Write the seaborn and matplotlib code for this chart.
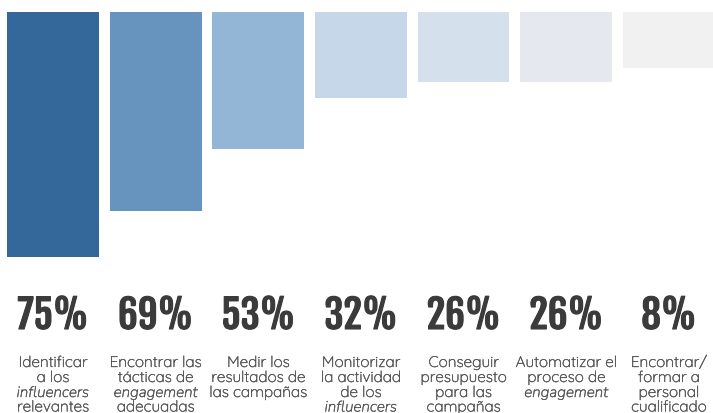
import matplotlib
matplotlib.use("Agg")
import matplotlib.pyplot as plt
import matplotlib.transforms as mtransforms
import matplotlib.patheffects as pe
import seaborn as sns
import pandas as pd

# ---- data ----
categories = ["Identificar influencers", "Tácticas de engagement", "Medir resultados",
              "Monitorizar actividad", "Conseguir presupuesto", "Automatizar engagement",
              "Encontrar personal"]
percent_labels = ["75%", "69%", "53%", "32%", "26%", "26%", "8%"]
# bar lengths as drawn in the infographic (same scale as 75% for the first bar)
bar_lengths = [75, 61, 42, 26.3, 21.4, 21.4, 17.1]
descriptions = [
    ["Identificar", "a los", "*influencers*", "relevantes"],
    ["Encontrar las", "tácticas de", "*engagement*", "adecuadas"],
    ["Medir los", "resultados de", "las campañas"],
    ["Monitorizar", "la actividad", "de los", "*influencers*"],
    ["Conseguir", "presupuesto", "para las", "campañas"],
    ["Automatizar el", "proceso de", "*engagement*"],
    ["Encontrar/", "formar a", "personal", "cualificado"],
]
bar_colors = ["#34689a", "#6694be", "#93b5d6", "#c6d7e9", "#d4e1ed", "#e5e9ef", "#f1f1f1"]

df = pd.DataFrame({"cat": categories, "length": bar_lengths})

W, H = 713, 413
fig = plt.figure(figsize=(W / 100, H / 100), dpi=100)
fig.patch.set_facecolor("white")

top_px, bottom_px = 12, 257
ax = fig.add_axes([0, 1 - bottom_px / H, 1, (bottom_px - top_px) / H])
sns.barplot(data=df, x="cat", y="length", hue="cat", palette=bar_colors,
            legend=False, width=0.895, saturation=1, ax=ax)
ax.set_ylim(75, 0)
ax.set_xlim(-0.516, 6.43)
ax.axis("off")

trans = mtransforms.blended_transform_factory(ax.transData, fig.transFigure)

pct_color = "#3b3b3b"
for i, lab in enumerate(percent_labels):
    ax.text(i, 1 - 329 / H, lab, transform=trans, ha="center", va="baseline",
            fontsize=28, family=["Fjalla One", "Oswald", "DejaVu Sans"],
            color=pct_color,
            path_effects=[pe.withStroke(linewidth=0.8, foreground=pct_color)])

desc_color = "#555555"
line_base = [367, 382, 397, 411.5]
for i, lines in enumerate(descriptions):
    for j, line in enumerate(lines):
        italic = line.startswith("*")
        txt = line.strip("*")
        if italic:
            fam, st = ["Nunito", "DejaVu Sans"], "italic"
        else:
            fam, st = ["Quicksand", "DejaVu Sans"], "normal"
        ax.text(i, 1 - line_base[j] / H, txt, transform=trans, ha="center",
                va="baseline", fontsize=11, family=fam, style=st,
                color=desc_color,
                path_effects=[pe.withStroke(linewidth=0.25, foreground=desc_color)])

fig.savefig("out.png", dpi=100, facecolor="white")
